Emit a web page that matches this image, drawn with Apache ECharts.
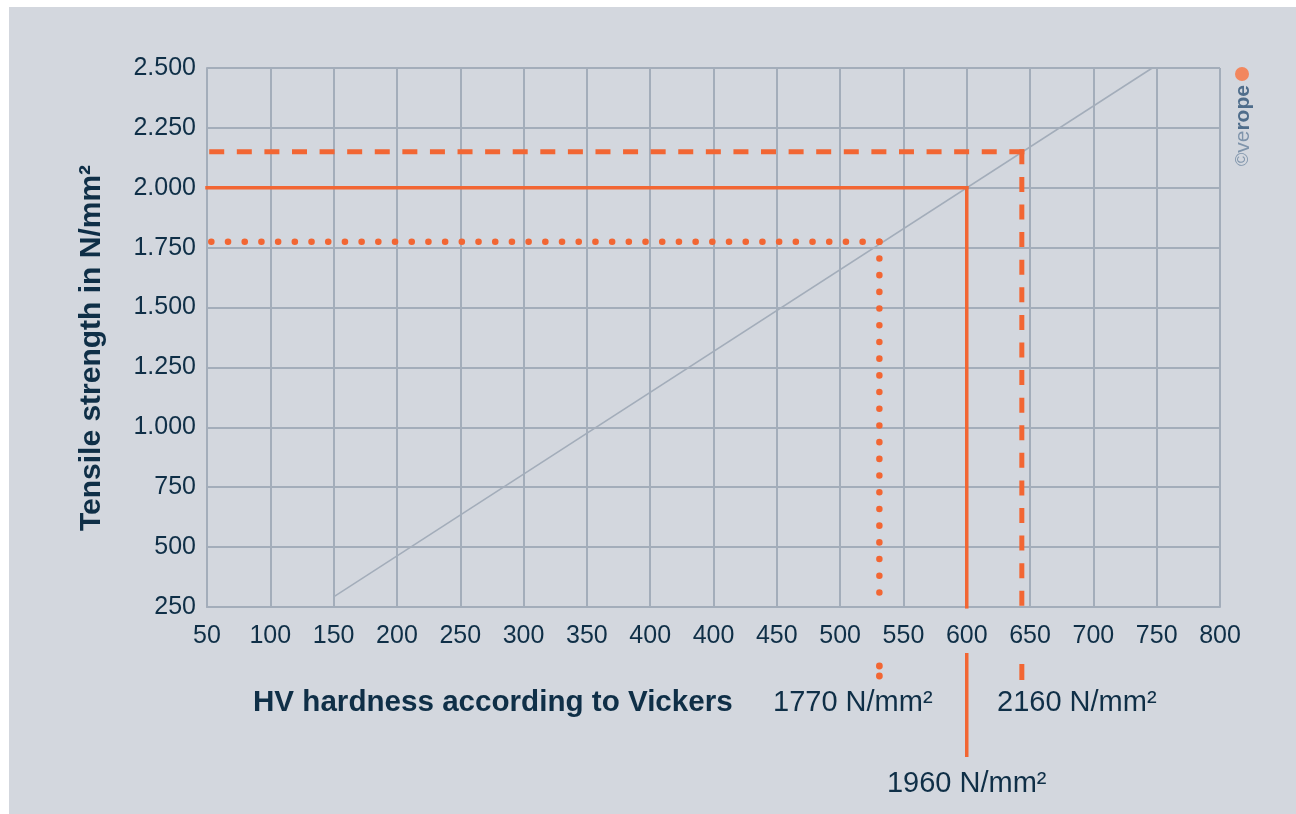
<!DOCTYPE html>
<html>
<head>
<meta charset="utf-8">
<script src="https://cdn.jsdelivr.net/npm/echarts@6/dist/echarts.min.js"></script>
<style>
  html, body { margin: 0; padding: 0; background: #ffffff; }
  #chart { position: absolute; left: 9px; top: 7px; width: 1287px; height: 807px; }
</style>
</head>
<body>
<div id="chart"></div>
<script>
// tick row as printed (note the doubled 400); x values below are positions on this row
var xTickLabels = ['50', '100', '150', '200', '250', '300', '350', '400', '400',
  '450', '500', '550', '600', '650', '700', '750', '800'];
var yMin = 250, yMax = 2500, yStep = 250;

// grey conversion line
var diagX = [2, 14.93];
var diagY = [292, 2500];

// the three rope grades
var markNames = ['1770 N/mm²', '1960 N/mm²', '2160 N/mm²'];
var markX = [10.62, 12, 12.87];
var markY = [1775, 2000, 2150];

var OX = 9, OY = 7; // panel offset on the page
var orange = '#f26633';
var gridCol = '#a3adba';
var ink = '#0f2f47';
var font = '"Liberation Sans", Arial, sans-serif';

var chart = echarts.init(document.getElementById('chart'), null, { renderer: 'canvas' });

var markStyles = [
  { width: 6.5, type: [0.1, 16.6], cap: 'round' },
  { width: 3.5, type: 'solid', cap: 'square' },
  { width: 5, type: [10, 17.59], cap: 'square' }
];

var series = [{
  type: 'line',
  data: diagX.map(function (x, i) { return [x, diagY[i]]; }),
  symbol: 'none',
  silent: true,
  lineStyle: { color: gridCol, width: 1.5 }
}];

markX.forEach(function (x, i) {
  var st = Object.assign({ color: orange }, markStyles[i]);
  // horizontal arm, drawn from the corner outwards
  series.push({
    type: 'line', symbol: 'none', silent: true, lineStyle: st,
    data: [[x, markY[i]], [0, markY[i]]]
  });
  // vertical arm down to the axis
  series.push({
    type: 'line', symbol: 'none', silent: true, lineStyle: st,
    data: [[x, markY[i]], [x, yMin]]
  });
});

var option = {
  animation: false,
  backgroundColor: '#d3d7de',
  textStyle: { fontFamily: font },
  grid: { left: 198, top: 61, width: 1013, height: 539 },
  xAxis: {
    type: 'value', min: 0, max: xTickLabels.length - 1, interval: 1,
    axisLine: { show: true, lineStyle: { color: gridCol, width: 2 } },
    axisTick: { show: false },
    splitLine: { show: true, lineStyle: { color: gridCol, width: 2 } },
    axisLabel: {
      margin: 17, fontSize: 25, color: ink, fontFamily: font,
      formatter: function (v) { return xTickLabels[v]; }
    }
  },
  yAxis: {
    type: 'value', min: yMin, max: yMax, interval: yStep,
    axisLine: { show: true, lineStyle: { color: gridCol, width: 2 } },
    axisTick: { show: false },
    splitLine: { show: true, lineStyle: { color: gridCol, width: 2 } },
    axisLabel: {
      margin: 11, fontSize: 25, color: ink, fontFamily: font,
      formatter: function (v) { return v >= 1000 ? (v / 1000).toFixed(3) : String(v); }
    }
  },
  series: series
};

chart.setOption(option);

function txt(x, y, text, size, weight, align) {
  return {
    type: 'text', x: x - OX, y: y - OY, silent: true,
    style: {
      text: text, fill: ink, fontSize: size, fontWeight: weight, fontFamily: font,
      align: align, textAlign: align, verticalAlign: 'middle', textVerticalAlign: 'middle'
    }
  };
}

var axisY = chart.convertToPixel({ gridIndex: 0 }, [0, yMin])[1];
var mx = markX.map(function (x) { return chart.convertToPixel({ gridIndex: 0 }, [x, yMin])[0]; });

var graphic = [
  // dotted stub under the axis labels
  { type: 'circle', silent: true, shape: { cx: mx[0], cy: axisY + 59, r: 3.4 }, style: { fill: orange } },
  { type: 'circle', silent: true, shape: { cx: mx[0], cy: axisY + 69, r: 3.4 }, style: { fill: orange } },
  // solid stub
  { type: 'line', silent: true, shape: { x1: mx[1], y1: axisY + 46, x2: mx[1], y2: axisY + 150 },
    style: { stroke: orange, lineWidth: 3.5 } },
  // dashed stub
  { type: 'line', silent: true, shape: { x1: mx[2], y1: axisY + 57, x2: mx[2], y2: axisY + 73 },
    style: { stroke: orange, lineWidth: 5 } },

  txt(773, 703, markNames[0], 29, 'normal', 'left'),
  txt(997, 703, markNames[2], 29, 'normal', 'left'),
  txt(mx[1] + OX, 784, markNames[1], 29, 'normal', 'center'),
  txt(253, 703, 'HV hardness according to Vickers', 29.6, 'bold', 'left'),
  Object.assign(txt(92, 348, 'Tensile strength in N/mm²', 30, 'bold', 'center'), { rotation: Math.PI / 2 }),

  // verope mark
  { type: 'circle', silent: true, shape: { cx: 1242 - OX, cy: 74 - OY, r: 7 },
    style: { fill: '#f2875e' } },
  {
    type: 'text', x: 1243 - OX, y: 166 - OY, rotation: Math.PI / 2, silent: true,
    style: {
      text: '{c|©}{a|ve}{b|rope}', align: 'left', textAlign: 'left',
      verticalAlign: 'middle', textVerticalAlign: 'middle',
      rich: {
        c: { fontSize: 18, fontFamily: font, fill: '#7f94ab', color: '#7f94ab' },
        a: { fontSize: 21, fontFamily: font, fill: '#7f94ab', color: '#7f94ab' },
        b: { fontSize: 21, fontFamily: font, fontWeight: 'bold', fill: '#4f6d8b', color: '#4f6d8b' }
      }
    }
  }
];

chart.setOption({ graphic: graphic });

window.addEventListener('resize', chart.resize);
</script>
</body>
</html>
